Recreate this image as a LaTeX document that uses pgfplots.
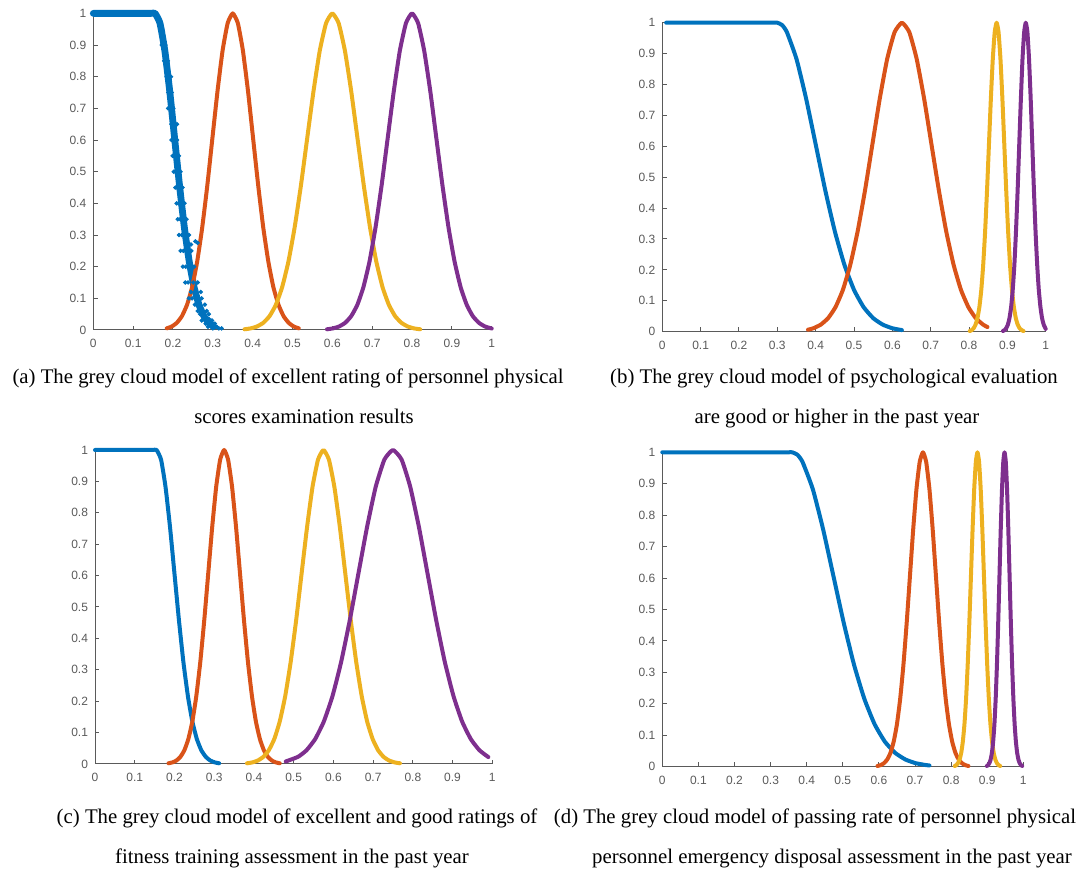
\documentclass[border=0pt]{standalone}
\usepackage{fontspec}
\setmainfont{Liberation Serif}
\newfontfamily\tickfont{Liberation Sans}
\usepackage{pgfplots}
\pgfplotsset{compat=1.18}

\definecolor{mblue}{HTML}{0072BD}
\definecolor{morange}{HTML}{D95319}
\definecolor{myellow}{HTML}{EDB120}
\definecolor{mpurple}{HTML}{7E2F8E}
\definecolor{axgray}{HTML}{5A5A5A}

\pgfplotsset{
  cloud/.style={
    scale only axis, anchor=south west,
    xmin=0, xmax=1, ymin=0, ymax=1,
    axis lines=left, axis line style={-, draw=axgray, line width=0.5pt},
    tick align=inside, major tick length=2.2pt,
    tick style={draw=axgray, line width=0.5pt},
    xtick={0,0.1,0.2,0.3,0.4,0.5,0.6,0.7,0.8,0.9,1},
    ytick={0,0.1,0.2,0.3,0.4,0.5,0.6,0.7,0.8,0.9,1},
    ticklabel style={font=\tickfont\fontsize{6}{7}\selectfont, text=axgray},
    /pgf/number format/assume math mode=true,
    xticklabel style={yshift=-1pt},
    clip=false,
  },
  drop/.style={line width=2pt, line join=round, line cap=round, smooth, tension=0.3},
}

\begin{document}
\begin{tikzpicture}
\path[use as bounding box] (0,0) rectangle (538.5pt,435pt);

% (a)
\begin{axis}[cloud, at={(46.65pt,270pt)}, width=199.2pt, height=158.3pt]
\addplot[drop, mblue, line width=3.4pt] coordinates {
  (0,1)(0.13,1)(0.145,1)(0.155,1)(0.1673,0.9692)(0.1795,0.8825)(0.1918,0.7548)(0.204,0.6065)
  (0.2163,0.4578)(0.2285,0.3247)(0.2408,0.2163)(0.253,0.1353)(0.2653,0.0796)
  (0.2775,0.0439)(0.2898,0.0228)(0.302,0.0111)};
\addplot[only marks, mark=*, mark size=0.9pt, mblue] coordinates {
  (0.168,0.95)(0.173,0.95)(0.175,0.9)(0.181,0.9)(0.172,0.9)
  (0.180,0.85)(0.187,0.85)(0.178,0.85)(0.184,0.8)(0.192,0.8)(0.186,0.8)(0.195,0.8)
  (0.188,0.75)(0.197,0.75)(0.191,0.75)(0.192,0.7)(0.201,0.7)(0.188,0.7)(0.199,0.7)
  (0.196,0.65)(0.206,0.65)(0.199,0.65)(0.210,0.65)(0.199,0.6)(0.210,0.6)(0.204,0.6)(0.196,0.6)
  (0.203,0.55)(0.215,0.55)(0.208,0.55)(0.199,0.55)(0.206,0.5)(0.219,0.5)(0.213,0.5)(0.202,0.5)
  (0.210,0.45)(0.224,0.45)(0.217,0.45)(0.206,0.45)(0.214,0.4)(0.229,0.4)(0.222,0.4)(0.209,0.4)
  (0.218,0.35)(0.234,0.35)(0.226,0.35)(0.212,0.35)(0.222,0.3)(0.240,0.3)(0.231,0.3)(0.215,0.3)
  (0.245,0.27)(0.262,0.275)(0.256,0.28)(0.226,0.25)(0.246,0.25)(0.237,0.25)(0.219,0.25)
  (0.232,0.2)(0.253,0.2)(0.243,0.2)(0.225,0.2)(0.238,0.15)(0.262,0.15)(0.251,0.15)(0.231,0.15)
  (0.245,0.12)(0.270,0.12)(0.256,0.12)(0.248,0.1)(0.272,0.1)(0.260,0.1)(0.240,0.1)
  (0.255,0.08)(0.280,0.08)(0.266,0.08)(0.262,0.06)(0.285,0.06)(0.272,0.06)
  (0.268,0.05)(0.290,0.05)(0.278,0.05)(0.272,0.03)(0.298,0.03)(0.285,0.03)(0.290,0.035)
  (0.282,0.02)(0.300,0.02)(0.305,0.02)(0.288,0.01)(0.310,0.01)(0.296,0.01)
  (0.300,0.005)(0.315,0.005)(0.322,0.005)};
\addplot[drop, morange] coordinates {
  (0.1843,0.0051)(0.197,0.0111)(0.2098,0.0228)(0.2225,0.0439)(0.2353,0.0796)(0.248,0.1353)
  (0.2608,0.2163)(0.2735,0.3247)(0.2863,0.4578)(0.299,0.6065)(0.3118,0.7548)(0.3245,0.8825)
  (0.3373,0.9692)(0.35,1)(0.3628,0.9692)(0.3755,0.8825)(0.3883,0.7548)(0.401,0.6065)
  (0.4138,0.4578)(0.4265,0.3247)(0.4393,0.2163)(0.452,0.1353)(0.4648,0.0796)(0.4775,0.0439)
  (0.4903,0.0228)(0.503,0.0111)(0.5158,0.0051)};
\addplot[drop, myellow] coordinates {
  (0.3795,0.0022)(0.3953,0.0051)(0.411,0.0111)(0.4268,0.0228)(0.4425,0.0439)(0.4583,0.0796)
  (0.474,0.1353)(0.4898,0.2163)(0.5055,0.3247)(0.5213,0.4578)(0.537,0.6065)(0.5528,0.7548)
  (0.5685,0.8825)(0.5843,0.9692)(0.6,1)(0.6158,0.9692)(0.6315,0.8825)(0.6473,0.7548)
  (0.663,0.6065)(0.6788,0.4578)(0.6945,0.3247)(0.7103,0.2163)(0.726,0.1353)(0.7418,0.0796)
  (0.7575,0.0439)(0.7733,0.0228)(0.789,0.0111)(0.8048,0.0051)(0.8205,0.0022)};
\addplot[drop, mpurple] coordinates {
  (0.5865,0.0022)(0.6018,0.0051)(0.617,0.0111)(0.6323,0.0228)(0.6475,0.0439)(0.6628,0.0796)
  (0.678,0.1353)(0.6933,0.2163)(0.7085,0.3247)(0.7238,0.4578)(0.739,0.6065)(0.7543,0.7548)
  (0.7695,0.8825)(0.7848,0.9692)(0.8,1)(0.8153,0.9692)(0.8305,0.8825)(0.8458,0.7548)
  (0.861,0.6065)(0.8763,0.4578)(0.8915,0.3247)(0.9068,0.2163)(0.922,0.1353)(0.9373,0.0796)
  (0.9525,0.0439)(0.9678,0.0228)(0.983,0.0111)(1.0,0.0047)};
\end{axis}

% (b)
\begin{axis}[cloud, at={(331.15pt,269.15pt)}, width=191.7pt, height=154.5pt]
\addplot[drop, mblue] coordinates {
  (0.01,1)(0.27,1)(0.29,1)(0.30,1)(0.3125,0.9922)(0.325,0.9692)(0.35,0.8825)(0.375,0.7548)
  (0.4,0.6065)(0.425,0.4578)(0.45,0.3247)(0.475,0.2163)(0.5,0.1353)(0.525,0.0796)
  (0.55,0.0439)(0.575,0.0228)(0.6,0.0111)(0.625,0.0051)};
\addplot[drop, morange] coordinates {
  (0.38,0.0064)(0.394,0.0111)(0.4133,0.0228)(0.4325,0.0439)(0.4518,0.0796)(0.471,0.1353)
  (0.4903,0.2163)(0.5095,0.3247)(0.5288,0.4578)(0.548,0.6065)(0.5673,0.7548)(0.5865,0.8825)
  (0.6058,0.9692)(0.625,1)(0.6443,0.9692)(0.6635,0.8825)(0.6828,0.7548)(0.702,0.6065)
  (0.7213,0.4578)(0.7405,0.3247)(0.7598,0.2163)(0.779,0.1353)(0.7983,0.0796)(0.8175,0.0439)
  (0.8368,0.0228)(0.848,0.015)};
\addplot[drop, myellow] coordinates {
  (0.802,0.0022)(0.807,0.0051)(0.812,0.0111)(0.817,0.0228)(0.822,0.0439)(0.827,0.0796)
  (0.832,0.1353)(0.837,0.2163)(0.842,0.3247)(0.847,0.4578)(0.852,0.6065)(0.857,0.7548)
  (0.862,0.8825)(0.867,0.9692)(0.872,1)(0.877,0.9692)(0.882,0.8825)(0.887,0.7548)
  (0.892,0.6065)(0.897,0.4578)(0.902,0.3247)(0.907,0.2163)(0.912,0.1353)(0.917,0.0796)
  (0.922,0.0439)(0.927,0.0228)(0.932,0.0111)(0.937,0.0051)(0.942,0.0022)};
\addplot[drop, mpurple] coordinates {
  (0.8885,0.0022)(0.8928,0.0051)(0.897,0.0111)(0.9013,0.0228)(0.9055,0.0439)(0.9098,0.0796)
  (0.914,0.1353)(0.9183,0.2163)(0.9225,0.3247)(0.9268,0.4578)(0.931,0.6065)(0.9353,0.7548)
  (0.9395,0.8825)(0.9438,0.9692)(0.948,1)(0.9523,0.9692)(0.9565,0.8825)(0.9608,0.7548)
  (0.965,0.6065)(0.9693,0.4578)(0.9735,0.3247)(0.9778,0.2163)(0.982,0.1353)(0.9863,0.0796)
  (0.9905,0.0439)(0.9948,0.0228)(1.0,0.009)};
\end{axis}

% (c)
\begin{axis}[cloud, at={(47.5pt,53pt)}, width=198.65pt, height=157pt]
\addplot[drop, mblue] coordinates {
  (0,1)(0.13,1)(0.145,1)(0.155,1)(0.1663,0.9692)(0.1775,0.8825)(0.1888,0.7548)(0.2,0.6065)
  (0.2113,0.4578)(0.2225,0.3247)(0.2338,0.2163)(0.245,0.1353)(0.2563,0.0796)(0.2675,0.0439)
  (0.2788,0.0228)(0.29,0.0111)(0.3013,0.0051)(0.3125,0.0022)};
\addplot[drop, morange] coordinates {
  (0.185,0.0022)(0.195,0.0051)(0.205,0.0111)(0.215,0.0228)(0.225,0.0439)(0.235,0.0796)
  (0.245,0.1353)(0.255,0.2163)(0.265,0.3247)(0.275,0.4578)(0.285,0.6065)(0.295,0.7548)
  (0.305,0.8825)(0.315,0.9692)(0.325,1)(0.335,0.9692)(0.345,0.8825)(0.355,0.7548)
  (0.365,0.6065)(0.375,0.4578)(0.385,0.3247)(0.395,0.2163)(0.405,0.1353)(0.415,0.0796)
  (0.425,0.0439)(0.435,0.0228)(0.445,0.0111)(0.455,0.0051)(0.465,0.0022)};
\addplot[drop, myellow] coordinates {
  (0.3825,0.0022)(0.3963,0.0051)(0.41,0.0111)(0.4238,0.0228)(0.4375,0.0439)(0.4513,0.0796)
  (0.465,0.1353)(0.4788,0.2163)(0.4925,0.3247)(0.5063,0.4578)(0.52,0.6065)(0.5338,0.7548)
  (0.5475,0.8825)(0.5613,0.9692)(0.575,1)(0.5888,0.9692)(0.6025,0.8825)(0.6163,0.7548)
  (0.63,0.6065)(0.6438,0.4578)(0.6575,0.3247)(0.6713,0.2163)(0.685,0.1353)(0.6988,0.0796)
  (0.7125,0.0439)(0.7263,0.0228)(0.74,0.0111)(0.7538,0.0051)(0.7675,0.0022)};
\addplot[drop, mpurple] coordinates {
  (0.48,0.008)(0.511,0.0228)(0.5325,0.0439)(0.5543,0.0796)(0.576,0.1353)(0.5978,0.2163)
  (0.6195,0.3247)(0.6413,0.4578)(0.663,0.6065)(0.6848,0.7548)(0.7065,0.8825)(0.7283,0.9692)
  (0.75,1)(0.7718,0.9692)(0.7935,0.8825)(0.8153,0.7548)(0.837,0.6065)(0.8588,0.4578)
  (0.8805,0.3247)(0.9023,0.2163)(0.924,0.1353)(0.9458,0.0796)(0.9675,0.0439)(0.99,0.022)};
\end{axis}

% (d)
\begin{axis}[cloud, at={(331.15pt,51.65pt)}, width=180.5pt, height=157.2pt]
\addplot[drop, mblue] coordinates {
  (0,1)(0.33,1)(0.35,1)(0.36,1)(0.3743,0.9922)(0.3885,0.9692)(0.417,0.8825)(0.4455,0.7548)
  (0.474,0.6065)(0.5025,0.4578)(0.531,0.3247)(0.5595,0.2163)(0.588,0.1353)(0.6165,0.0796)
  (0.645,0.0439)(0.6735,0.0228)(0.702,0.0111)(0.7305,0.0051)(0.74,0.0039)};
\addplot[drop, morange] coordinates {
  (0.596,0.0022)(0.605,0.0051)(0.614,0.0111)(0.623,0.0228)(0.632,0.0439)(0.641,0.0796)
  (0.65,0.1353)(0.659,0.2163)(0.668,0.3247)(0.677,0.4578)(0.686,0.6065)(0.695,0.7548)
  (0.704,0.8825)(0.713,0.9692)(0.722,1)(0.731,0.9692)(0.74,0.8825)(0.749,0.7548)
  (0.758,0.6065)(0.767,0.4578)(0.776,0.3247)(0.785,0.2163)(0.794,0.1353)(0.803,0.0796)
  (0.812,0.0439)(0.821,0.0228)(0.83,0.0111)(0.839,0.0051)(0.848,0.0022)};
\addplot[drop, myellow] coordinates {
  (0.81,0.0022)(0.8145,0.0051)(0.819,0.0111)(0.8235,0.0228)(0.828,0.0439)(0.8325,0.0796)
  (0.837,0.1353)(0.8415,0.2163)(0.846,0.3247)(0.8505,0.4578)(0.855,0.6065)(0.8595,0.7548)
  (0.864,0.8825)(0.8685,0.9692)(0.873,1)(0.8775,0.9692)(0.882,0.8825)(0.8865,0.7548)
  (0.891,0.6065)(0.8955,0.4578)(0.9,0.3247)(0.9045,0.2163)(0.909,0.1353)(0.9135,0.0796)
  (0.918,0.0439)(0.9225,0.0228)(0.927,0.0111)(0.9315,0.0051)(0.936,0.0022)};
\addplot[drop, mpurple] coordinates {
  (0.899,0.0022)(0.9025,0.0051)(0.906,0.0111)(0.9095,0.0228)(0.913,0.0439)(0.9165,0.0796)
  (0.92,0.1353)(0.9235,0.2163)(0.927,0.3247)(0.9305,0.4578)(0.934,0.6065)(0.9375,0.7548)
  (0.941,0.8825)(0.9445,0.9692)(0.948,1)(0.9515,0.9692)(0.955,0.8825)(0.9585,0.7548)
  (0.962,0.6065)(0.9655,0.4578)(0.969,0.3247)(0.9725,0.2163)(0.976,0.1353)(0.9795,0.0796)
  (0.983,0.0439)(0.9865,0.0228)(0.99,0.0111)(0.9935,0.0051)(0.997,0.0022)};
\end{axis}

% captions
\begin{scope}[every node/.style={anchor=base, inner sep=0pt, font=\fontsize{10.4}{12}\selectfont}]
\node at (144pt,243pt) {(a) The grey cloud model of excellent rating of personnel physical};
\node at (152pt,223pt) {scores examination results};
\node at (417pt,243pt) {(b) The grey cloud model of psychological evaluation};
\node at (418.5pt,223pt) {are good or higher in the past year};
\node at (148.5pt,23pt) {(c) The grey cloud model of excellent and good ratings of};
\node at (146pt,3pt) {fitness training assessment in the past year};
\node at (407.5pt,23pt) {(d) The grey cloud model of passing rate of personnel physical};
\node at (416pt,3pt) {personnel emergency disposal assessment in the past year};
\end{scope}
\end{tikzpicture}
\end{document}
